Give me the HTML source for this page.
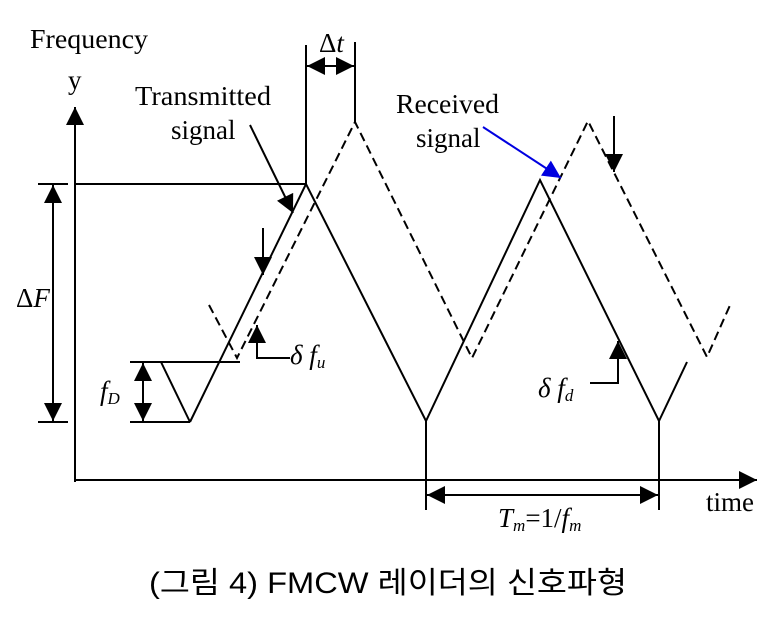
<!DOCTYPE html>
<html><head><meta charset="utf-8"><style>
body{margin:0;background:#fff;}
svg{display:block;font-family:"Liberation Serif",serif;}
</style></head><body>
<svg width="776" height="624" viewBox="0 0 776 624" xmlns="http://www.w3.org/2000/svg">
<defs>
<marker id="A" viewBox="0 0 10 10" refX="10" refY="5" markerWidth="20" markerHeight="18" markerUnits="userSpaceOnUse" orient="auto"><path d="M0,0L10,5L0,10z" fill="#000"/></marker>
<marker id="B" viewBox="0 0 10 10" refX="10" refY="5" markerWidth="22" markerHeight="18" markerUnits="userSpaceOnUse" orient="auto"><path d="M0,0L10,5L0,10z" fill="#0000e0"/></marker>
</defs>
<g stroke="#000" stroke-width="2" fill="none">
<line x1="75" y1="482" x2="75" y2="107" marker-end="url(#A)"/>
<line x1="75" y1="480" x2="757" y2="480" marker-end="url(#A)"/>
<line x1="75" y1="184" x2="306" y2="184"/>
<line x1="306" y1="45" x2="306" y2="184"/>
<line x1="355" y1="42" x2="355" y2="122"/>
<line x1="331" y1="66" x2="307" y2="66" marker-end="url(#A)"/>
<line x1="330" y1="66" x2="354" y2="66" marker-end="url(#A)"/>
<polyline points="190,422 306,184 426,421 540,180 659,421 687,362"/>
<line x1="130" y1="362" x2="240" y2="362"/>
<line x1="130" y1="422" x2="190" y2="422"/>
<line x1="161" y1="362" x2="190" y2="422"/>
<polyline stroke-dasharray="9,5" points="209,305 237,358 355,122 472,358 588,121 707,357 731,303"/>
<line x1="38" y1="184" x2="68" y2="184"/>
<line x1="38" y1="422" x2="68" y2="422"/>
<line x1="53" y1="300" x2="53" y2="185" marker-end="url(#A)"/>
<line x1="53" y1="300" x2="53" y2="421" marker-end="url(#A)"/>
<line x1="143" y1="392" x2="143" y2="363" marker-end="url(#A)"/>
<line x1="143" y1="392" x2="143" y2="421" marker-end="url(#A)"/>
<line x1="426" y1="420" x2="426" y2="510"/>
<line x1="659" y1="420" x2="659" y2="510"/>
<line x1="540" y1="495" x2="427" y2="495" marker-end="url(#A)"/>
<line x1="540" y1="495" x2="658" y2="495" marker-end="url(#A)"/>
<line x1="250" y1="125" x2="293" y2="213" marker-end="url(#A)"/>
<line x1="263" y1="228" x2="263" y2="275" marker-end="url(#A)"/>
<line x1="614" y1="116" x2="614" y2="172" marker-end="url(#A)"/>
<polyline points="290,358 257,358 257,325" marker-end="url(#A)"/>
<polyline points="590,383 618,383 618,341" marker-end="url(#A)"/>
<line x1="483" y1="127" x2="561" y2="178" stroke="#0000e0" marker-end="url(#B)"/>
</g>
<g font-size="27" fill="#000">
<text x="30" y="48" textLength="118" lengthAdjust="spacingAndGlyphs">Frequency</text>
<text x="68" y="89">y</text>
<text x="135" y="105" textLength="136" lengthAdjust="spacingAndGlyphs">Transmitted</text>
<text x="171" y="139">signal</text>
<text x="396" y="113" textLength="103" lengthAdjust="spacingAndGlyphs">Received</text>
<text x="416" y="147">signal</text>
<text x="319" y="52">Δ<tspan font-style="italic">t</tspan></text>
<text x="16" y="307">Δ<tspan font-style="italic">F</tspan></text>
<text x="100" y="400" font-style="italic">f<tspan font-size="17" dy="4">D</tspan></text>
<text x="290" y="364" font-style="italic">δ  f<tspan font-size="17" dy="4">u</tspan></text>
<text x="538" y="397" font-style="italic">δ  f<tspan font-size="17" dy="4">d</tspan></text>
<text x="706" y="511">time</text>
<text x="498" y="527"><tspan font-style="italic">T</tspan><tspan font-style="italic" font-size="17" dy="4">m</tspan><tspan dy="-4">=1/</tspan><tspan font-style="italic">f</tspan><tspan font-style="italic" font-size="17" dy="4">m</tspan></text>
</g>
<text x="388" y="593" text-anchor="middle" font-size="30" textLength="478" lengthAdjust="spacingAndGlyphs" font-family="'Liberation Sans','Noto Sans CJK KR',sans-serif">(그림 4) FMCW 레이더의 신호파형</text>
</svg>
</body></html>
